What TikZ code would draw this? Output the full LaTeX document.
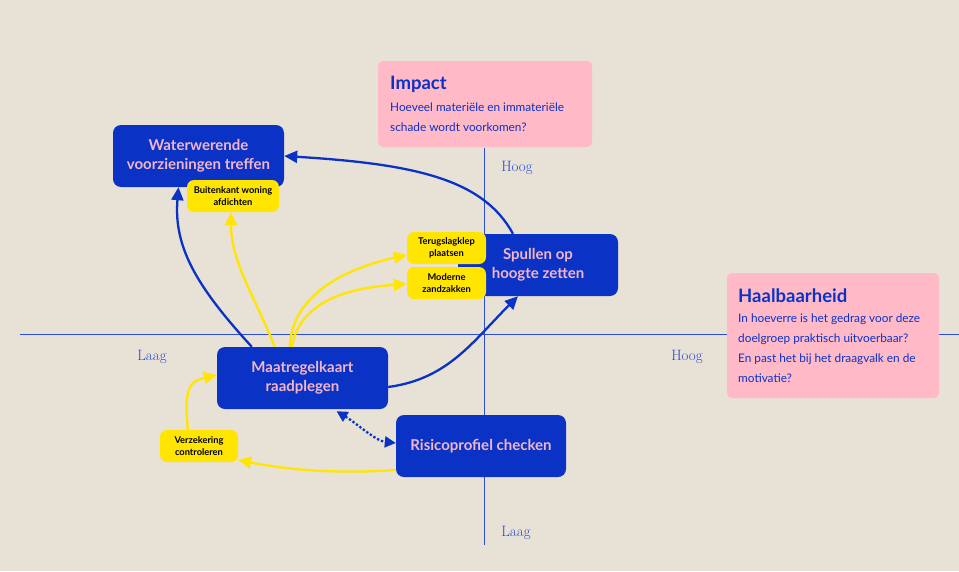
\documentclass[tikz,border=0pt]{standalone}
\usepackage{fontspec}
\setsansfont{Lato}
\usetikzlibrary{arrows.meta}
\definecolor{bg}{HTML}{E8E1D6}
\definecolor{dblue}{HTML}{0A33C6}
\definecolor{axblue}{HTML}{2A4DD3}
\definecolor{pinktxt}{HTML}{F4B5CB}
\definecolor{pinkbox}{HTML}{FFB9C7}
\definecolor{ylw}{HTML}{FFE500}
\begin{document}
\begin{tikzpicture}[x=1pt,y=-1pt,
  bluebox/.style={fill=dblue,rounded corners=8pt,minimum width=171pt,minimum height=62pt,text=pinktxt,font=\sffamily\bfseries\fontsize{15}{19}\selectfont,align=center,inner sep=0pt},
  ybox/.style={fill=ylw,rounded corners=7pt,minimum width=79pt,minimum height=32pt,text=black,font=\sffamily\bfseries\fontsize{9.3}{12}\selectfont,align=center,inner sep=0pt},
  infobox/.style={fill=pinkbox,rounded corners=5pt,inner sep=0pt},
  axlbl/.style={text=axblue,font=\rmfamily\fontsize{15}{17}\selectfont},
  infotitle/.style={anchor=west,text=dblue,font=\sffamily\bfseries\fontsize{18.5}{20}\selectfont,inner sep=0pt},
  infotext/.style={anchor=west,text=dblue,font=\sffamily\fontsize{11.8}{14}\selectfont,inner sep=0pt},
  barrow/.style={draw=dblue,line width=2.3pt,-{Triangle[length=13pt,width=12pt]}},
  yarrow/.style={draw=ylw,line width=2.3pt,-{Triangle[length=13pt,width=12pt]}},
  axline/.style={draw=axblue,line width=1pt}]
\useasboundingbox (0,0) rectangle (959,571);
\fill[bg] (0,0) rectangle (959,571);
% axes
\coordinate (hl) at (20,334);
\coordinate (hr) at (959,334);
\coordinate (vt) at (484,148);
\coordinate (vb) at (484,545);
\draw[axline] (hl) -- (hr);
\draw[axline] (vt) -- (vb);
% info boxes
\node[infobox,minimum width=214pt,minimum height=86pt] (imp) at (485,104) {};
\node[infotitle] (impt) at (390,84) {Impact};
\node[infotext] (imp1) at (390,107) {Hoeveel materiële en immateriële};
\node[infotext] (imp2) at (390,127) {schade wordt voorkomen?};
\node[infobox,minimum width=212pt,minimum height=125pt] (haal) at (833,335.5) {};
\node[infotitle] (haalt) at (738,296) {Haalbaarheid};
\node[infotext] (h1) at (738,319) {In hoeverre is het gedrag voor deze};
\node[infotext] (h2) at (738,339) {doelgroep praktisch uitvoerbaar?};
\node[infotext] (h3) at (738,359) {En past het bij het draagvalk en de};
\node[infotext] (h4) at (738,378) {motivatie?};
% axis labels
\node[axlbl] (hoog1) at (517,168) {Hoog};
\node[axlbl] (laag1) at (152,357) {Laag};
\node[axlbl] (hoog2) at (687,357) {Hoog};
\node[axlbl] (laag2) at (516,533) {Laag};
% blue boxes
\node[bluebox] (wat) at (198.5,156) {Waterwerende\\voorzieningen treffen};
\node[bluebox,minimum width=160pt] (sp) at (538,265) {Spullen op\\hoogte zetten};
\node[bluebox] (mk) at (302.5,378) {Maatregelkaart\\raadplegen};
\node[bluebox,minimum width=170pt] (rp) at (481,446) {Risicoprofiel checken};
% yellow boxes
\node[ybox,minimum width=92pt] (bk) at (233,196) {Buitenkant woning\\afdichten};
\node[ybox] (tk) at (446.5,248) {Terugslagklep\\plaatsen};
\node[ybox] (mz) at (446.5,283) {Moderne\\zandzakken};
\node[ybox,minimum width=78pt] (vz) at (199,446) {Verzekering\\controleren};
% connectors
\draw[barrow] ([xshift=-25pt]sp.north) .. controls +(-30,-55) and +(130,8) .. (wat.east);
\draw[barrow] ([xshift=35pt]mk.north west) .. controls +(-55,-60) and +(-5,60) .. ([xshift=-20pt]wat.south);
\draw[yarrow] ([xshift=58pt]mk.north west) .. controls +(-20,-50) and +(0,50) .. ([xshift=-2pt]bk.south);
\draw[yarrow] ([xshift=73pt]mk.north west) .. controls +(2,-55) and +(-55,12) .. ([yshift=-7pt]tk.west);
\draw[yarrow] ([xshift=75pt]mk.north west) .. controls +(8,-45) and +(-60,4) .. ([yshift=-1pt]mz.west);
\draw[barrow] ([yshift=-9pt]mk.east) .. controls +(60,-8) and +(-45,45) .. ([xshift=-20pt]sp.south);
\draw[draw=dblue,line width=2.3pt,dotted,{Triangle[length=11pt,width=11pt]}-{Triangle[length=11pt,width=11pt]}] ([xshift=34pt,yshift=-2pt]mk.south) .. controls +(20,12) and +(-20,-2) .. ([yshift=3pt]rp.west);
\draw[yarrow] ([yshift=-24pt]rp.west) .. controls +(-60,4) and +(50,10) .. ([yshift=-14pt]vz.east);
\draw[yarrow] ([xshift=-11pt]vz.north) .. controls +(-5,-45) and +(-25,6) .. ([yshift=3pt]mk.west);
\end{tikzpicture}
\end{document}
